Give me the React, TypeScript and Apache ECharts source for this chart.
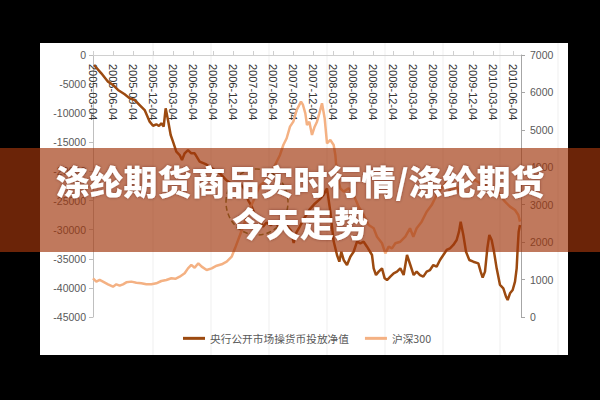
import React, { useEffect, useRef } from 'react';
import * as echarts from 'echarts';

// x = months since 2005-03-04 (quarterly tick labels every 3 months)
const quarterLabels = [
  '2005-03-04', '2005-06-04', '2005-09-04', '2005-12-04',
  '2006-03-04', '2006-06-04', '2006-09-04', '2006-12-04',
  '2007-03-04', '2007-06-04', '2007-09-04', '2007-12-04',
  '2008-03-04', '2008-06-04', '2008-09-04', '2008-12-04',
  '2009-03-04', '2009-06-04', '2009-09-04', '2009-12-04',
  '2010-03-04', '2010-06-04',
];

const leftTicks = { min: -45000, max: 0, interval: 5000 };
const rightTicks = { min: 0, max: 7000, interval: 1000 };

const seriesNames = ['央行公开市场操货币投放净值', '沪深300'];

const pbocNet: [number, number][] = [
  [0.15, -1718], [1.25, -3150], [2.25, -4580], [3.0, -5150], [3.75, -6000],
  [4.75, -6750], [5.5, -7450], [6.25, -7730], [7.0, -8590], [7.75, -9450],
  [8.5, -11450], [9.0, -12150], [9.5, -11900], [9.9, -12200], [10.25, -11730],
  [10.6, -12300], [10.9, -9160], [11.25, -11160], [11.65, -13740], [12.0, -14890],
  [12.5, -16600], [13.0, -17180], [13.35, -18030], [13.75, -16880], [14.25, -16320],
  [14.75, -16880], [15.25, -16880], [16.0, -18320], [17.0, -18800], [18.0, -19600],
  [19.0, -20300], [20.0, -21500], [21.0, -22300], [22.0, -22000], [22.7, -23000],
  [23.3, -25000], [23.8, -26000], [24.3, -27500], [25.0, -28500], [25.5, -29500],
  [26.0, -28800], [26.7, -29200], [27.3, -28500], [28.0, -29800], [28.6, -29000],
  [29.2, -29500], [29.7, -30200], [30.1, -32300], [30.5, -30500], [31.0, -29500],
  [31.7, -28000], [32.5, -26500], [33.3, -25500], [34.0, -24800], [34.6, -24000],
  [35.1, -22900], [35.6, -26900], [36.1, -32000], [36.6, -34350], [36.95, -35500],
  [37.25, -33800], [37.6, -35200], [38.1, -36070], [38.6, -34640], [39.1, -33790],
  [39.6, -32070], [40.1, -32350], [40.6, -32070], [41.1, -32930], [41.85, -34350],
  [42.1, -36640], [42.45, -37790], [42.85, -37210], [43.35, -36640], [43.75, -38360],
  [44.1, -38650], [44.6, -38070], [45.1, -37500], [45.6, -37210], [46.1, -36640],
  [46.6, -37790], [47.1, -34350], [47.6, -36070], [48.1, -37790], [48.55, -37210],
  [49.05, -37790], [49.55, -38070], [50.05, -37210], [50.55, -36930], [51.05, -36070],
  [51.55, -36350], [52.05, -35210], [52.55, -34350], [53.05, -33490], [53.55, -33200],
  [54.05, -32630], [54.55, -31780], [54.9, -30350], [55.15, -28630], [55.55, -30920],
  [55.95, -33780], [56.45, -35210], [57.05, -35500], [57.8, -35780], [58.15, -37210],
  [58.45, -38240], [58.8, -37210], [59.15, -33200], [59.45, -30920], [59.8, -31780],
  [60.15, -33780], [60.55, -36640], [61.05, -39500], [61.55, -40070], [61.95, -41510],
  [62.2, -42080], [62.55, -40930], [62.95, -40360], [63.3, -38930], [63.55, -36640],
  [63.7, -33200], [63.85, -30350], [64.05, -29200],
];

const hs300: [number, number][] = [
  [0.0, 1035], [0.5, 945], [1.0, 990], [1.5, 945], [2.25, 873], [3.0, 810],
  [3.5, 873], [4.0, 837], [4.5, 873], [5.0, 926], [5.75, 945], [6.5, 917],
  [7.25, 900], [8.0, 873], [8.75, 873], [9.5, 900], [10.25, 962], [11.0, 990],
  [11.75, 1035], [12.35, 1020], [13.0, 1077], [13.75, 1168], [14.25, 1300],
  [14.75, 1390], [15.25, 1318], [15.8, 1435], [16.3, 1345], [17.05, 1256],
  [17.8, 1300], [18.55, 1370], [19.3, 1408], [20.05, 1478], [20.8, 1611],
  [21.3, 1835], [22.05, 2190], [22.8, 2550], [23.55, 2900], [24.3, 3200],
  [25.05, 3527], [25.8, 3615], [26.55, 3794], [27.3, 4060], [28.05, 4330],
  [28.55, 4596], [29.05, 4775], [29.55, 5085], [30.05, 5219], [30.55, 5531],
  [31.2, 5753], [31.5, 5665], [31.85, 5442], [32.1, 5130], [32.45, 5219],
  [32.85, 4863], [33.25, 5085], [33.6, 5219], [33.95, 5442], [34.35, 5710],
  [34.75, 5309], [35.1, 4640], [35.6, 4730], [36.1, 4596], [36.35, 4330],
  [36.6, 3794], [37.1, 3439], [37.6, 3349], [38.35, 3439], [39.1, 3260],
  [39.85, 2948], [40.6, 2725], [41.35, 2458], [42.1, 2370], [42.6, 2145],
  [43.35, 1970], [43.85, 1700], [44.35, 1880], [44.85, 1835], [45.35, 1970],
  [46.1, 2012], [46.85, 2145], [47.55, 2370], [48.05, 2145], [48.55, 2370],
  [49.3, 2547], [50.05, 2813], [50.8, 2990], [51.55, 3260], [52.3, 3439],
  [53.05, 3615], [53.55, 3349], [54.05, 3439], [54.55, 3482], [55.05, 3305],
  [55.8, 3482], [56.55, 3615], [57.3, 3660], [58.05, 3572], [58.8, 3527],
  [59.55, 3572], [60.3, 3439], [61.05, 3260], [61.8, 3082], [62.55, 2948],
  [63.3, 2859], [63.8, 2725], [64.05, 2547],
];

const bannerLines = ['涤纶期货商品实时行情/涤纶期货', '今天走势'];

export default function App() {
  const ref = useRef<HTMLDivElement>(null);

  useEffect(() => {
    if (!ref.current) return;
    const chart = echarts.init(ref.current, undefined, { renderer: 'svg' });
    const axisFont = 'Liberation Sans';
    const bgLineXs = [153, 211, 269, 327, 385, 443, 500, 558];

    chart.setOption({
      animation: false,
      backgroundColor: '#000000',
      grid: { left: 93, right: 79, top: 55, bottom: 83 },
      xAxis: {
        type: 'value',
        position: 'top',
        min: 0,
        max: 64.2,
        interval: 3,
        axisLine: { show: true, lineStyle: { color: '#d0d0d0', width: 1 } },
        axisTick: { show: true, length: 4, lineStyle: { color: '#d0d0d0' } },
        splitLine: { show: false },
        axisLabel: {
          inside: true,
          rotate: -90,
          margin: 9,
          fontSize: 11,
          fontFamily: axisFont,
          color: '#333333',
          showMaxLabel: false,
          formatter: (v: number) => {
            const i = Math.round(v / 3);
            if (Math.abs(v - i * 3) > 1e-6) return '';
            return quarterLabels[i] ?? '';
          },
        },
      },
      yAxis: [
        {
          type: 'value',
          min: leftTicks.min,
          max: leftTicks.max,
          interval: leftTicks.interval,
          axisLine: { show: true, lineStyle: { color: '#bfbfbf' } },
          axisTick: { show: true, length: 4, lineStyle: { color: '#bfbfbf' } },
          splitLine: { show: false },
          axisLabel: {
            margin: 7,
            fontSize: 10.5,
            fontFamily: axisFont,
            color: '#595959',
            formatter: (v: number) => String(v),
          },
        },
        {
          type: 'value',
          position: 'right',
          min: rightTicks.min,
          max: rightTicks.max,
          interval: rightTicks.interval,
          axisLine: { show: true, lineStyle: { color: '#a6a6a6' } },
          axisTick: { show: true, length: 4, lineStyle: { color: '#a6a6a6' } },
          splitLine: { show: false },
          axisLabel: {
            margin: 9,
            fontSize: 10.5,
            fontFamily: axisFont,
            color: '#595959',
            formatter: (v: number) => String(v),
          },
        },
      ],
      legend: {
        data: seriesNames,
        left: 183,
        top: 333,
        padding: 0,
        icon: 'rect',
        itemWidth: 22,
        itemHeight: 3,
        itemGap: 16,
        textStyle: { fontSize: 10.7, color: '#595959', fontFamily: 'Noto Sans CJK SC' },
      },
      series: [
        {
          name: seriesNames[0],
          type: 'line',
          yAxisIndex: 0,
          data: pbocNet,
          showSymbol: false,
          symbol: 'none',
          lineStyle: { color: '#9C4A10', width: 2.5 },
          itemStyle: { color: '#9C4A10' },
          z: 3,
        },
        {
          name: seriesNames[1],
          type: 'line',
          yAxisIndex: 1,
          data: hs300,
          showSymbol: false,
          symbol: 'none',
          lineStyle: { color: '#F4B183', width: 2.5 },
          itemStyle: { color: '#F4B183' },
          z: 4,
        },
      ],
      graphic: [
        {
          type: 'rect',
          shape: { x: 40, y: 43, width: 528, height: 312 },
          style: { fill: '#ffffff' },
          z: -1,
          silent: true,
        },
        ...bgLineXs.map((x) => ({
          type: 'line',
          shape: { x1: x, y1: 43, x2: x, y2: 355 },
          style: { stroke: '#efefef', lineWidth: 1 },
          z: 0,
          silent: true,
        })),
        {
          type: 'ellipse',
          shape: { cx: 257, cy: 202, rx: 31, ry: 33 },
          style: { fill: 'none', stroke: '#6b7b33', lineWidth: 1.5, lineDash: [5, 3] },
          z: 50,
          silent: true,
        },
        {
          type: 'rect',
          shape: { x: 0, y: 148, width: 600, height: 104 },
          style: { fill: 'rgba(161,54,12,0.665)' },
          z: 100,
          silent: true,
        },
        {
          type: 'text',
          x: 300,
          y: 180,
          style: {
            text: bannerLines[0],
            fill: '#ffffff',
            fontSize: 34,
            fontWeight: 900,
            fontFamily: 'Noto Sans CJK SC',
            align: 'center',
            verticalAlign: 'middle',
            textShadowColor: 'rgba(60,15,0,0.45)',
            textShadowBlur: 3,
          },
          z: 101,
          silent: true,
        },
        {
          type: 'text',
          x: 300,
          y: 222,
          style: {
            text: bannerLines[1],
            fill: '#ffffff',
            fontSize: 34,
            fontWeight: 900,
            fontFamily: 'Noto Sans CJK SC',
            align: 'center',
            verticalAlign: 'middle',
            textShadowColor: 'rgba(60,15,0,0.45)',
            textShadowBlur: 3,
          },
          z: 101,
          silent: true,
        },
      ],
    });

    return () => chart.dispose();
  }, []);

  return (
    <div
      ref={ref}
      style={{ position: 'absolute', left: 0, top: 0, width: 600, height: 400 }}
    />
  );
}
